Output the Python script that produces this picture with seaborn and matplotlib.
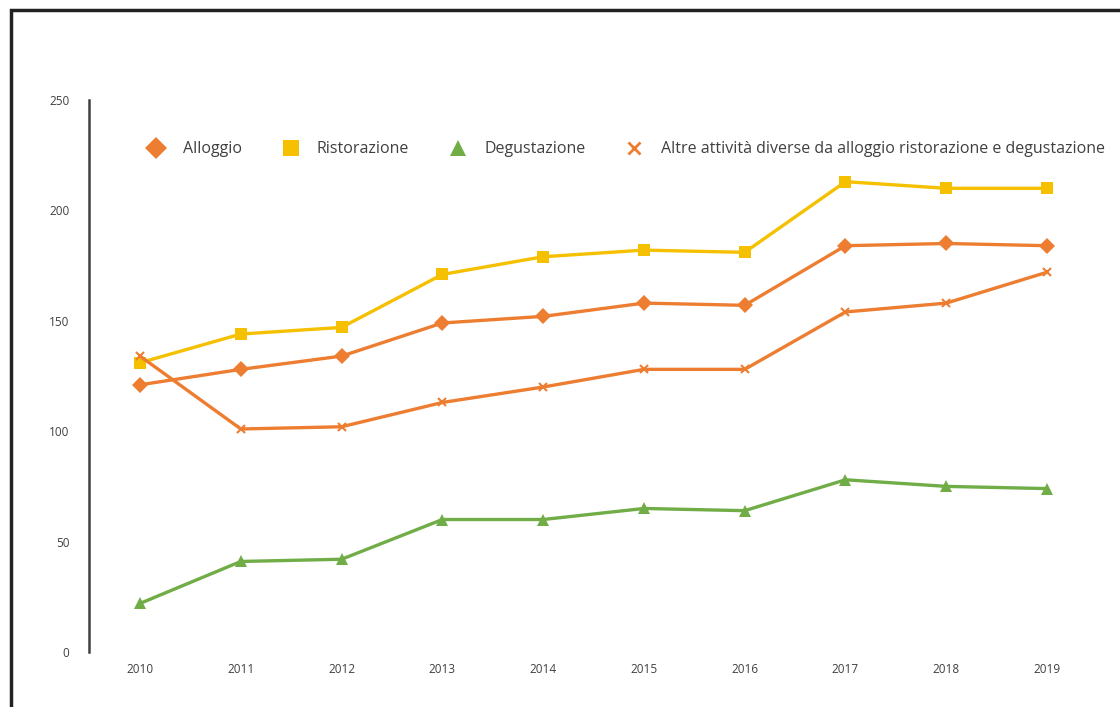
import matplotlib
matplotlib.use("Agg")
import matplotlib.pyplot as plt
import seaborn as sns
import pandas as pd
from matplotlib.lines import Line2D
from matplotlib.patches import Rectangle

years = [2010, 2011, 2012, 2013, 2014, 2015, 2016, 2017, 2018, 2019]
alloggio = [121, 128, 134, 149, 152, 158, 157, 184, 185, 184]
ristorazione = [131, 144, 147, 171, 179, 182, 181, 213, 210, 210]
degustazione = [22, 41, 42, 60, 60, 65, 64, 78, 75, 74]
altre = [134, 101, 102, 113, 120, 128, 128, 154, 158, 172]

series_names = ["Alloggio", "Ristorazione", "Degustazione",
                "Altre attività diverse da alloggio ristorazione e degustazione"]
series_values = [alloggio, ristorazione, degustazione, altre]
colors = ["#ED7D31", "#F5C000", "#70AD47", "#ED7D31"]
markers = ["D", "s", "^", "x"]
yticks = [0, 50, 100, 150, 200, 250]

sns.set_theme(style="white")
plt.rcParams["font.family"] = ["Open Sans", "DejaVu Sans"]

fig = plt.figure(figsize=(11.2, 7.07), dpi=100)
ax = fig.add_axes([0.0795, 0.0778, 0.9027, 0.7808])

frames = []
for name, vals in zip(series_names, series_values):
    frames.append(pd.DataFrame({"year": years, "value": vals, "series": name}))
df = pd.concat(frames, ignore_index=True)

for name, col, mk in zip(series_names, colors, markers):
    sub = df[df["series"] == name]
    sns.lineplot(data=sub, x="year", y="value", ax=ax, color=col, marker=mk,
                 markersize=8 if mk != "x" else 6, markeredgewidth=1.5 if mk == "x" else 0,
                 markeredgecolor=col, linewidth=2.4, legend=False)

ax.set_xlim(2009.494, 2019.526)
ax.set_ylim(0, 250)
ax.set_xticks(years)
ax.set_xticklabels([str(y) for y in years])
ax.set_yticks(yticks)
ax.set_yticklabels([str(y) for y in yticks])
ax.set_xlabel("")
ax.set_ylabel("")
for s in ["top", "right", "bottom"]:
    ax.spines[s].set_visible(False)
ax.spines["left"].set_color("#404040")
ax.spines["left"].set_linewidth(1.8)
ax.tick_params(axis="both", length=0, labelsize=8.5, colors="#404040")
ax.tick_params(axis="y", pad=14)
ax.tick_params(axis="x", pad=8)
ax.grid(False)

handles = [Line2D([0], [0], color=c, marker=m, linestyle="none",
                  markersize=11 if m != "x" else 8, markeredgewidth=2 if m == "x" else 0,
                  markeredgecolor=c)
           for c, m in zip(colors, markers)]
leg = fig.legend(handles, series_names, loc="center left", bbox_to_anchor=(0.119, 0.789),
                 ncol=4, frameon=False, fontsize=11.5, handlelength=1.1, handletextpad=1.1,
                 columnspacing=2.5, labelcolor="#404040")

fig.patches.append(Rectangle((11 / 1120, -0.1), 1.2, 1.1 - 10 / 707, transform=fig.transFigure,
                             fill=False, edgecolor="#222222", linewidth=2.5))

fig.savefig("out.png", dpi=100)
